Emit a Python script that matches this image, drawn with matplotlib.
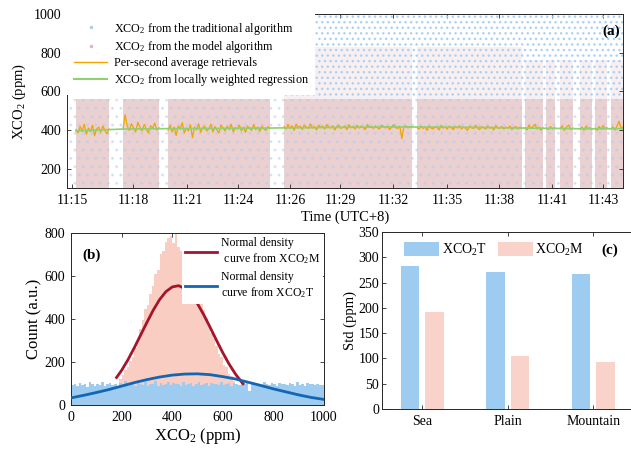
import matplotlib.pyplot as plt
import numpy as np
from matplotlib.lines import Line2D

plt.rcParams["font.family"] = ["Liberation Serif", "DejaVu Serif"]
plt.rcParams["mathtext.fontset"] = "custom"
plt.rcParams["mathtext.rm"] = "Liberation Serif"
plt.rcParams["mathtext.it"] = "Liberation Serif:italic"
plt.rcParams["mathtext.bf"] = "Liberation Serif:bold"
plt.rcParams["hatch.linewidth"] = 1.0
plt.rcParams["axes.linewidth"] = 0.7
plt.rcParams["axes.edgecolor"] = "#262626"

# ---------------- data ----------------
# (a) time axis uses record index; ticks labelled with clock time
time_ticks = [5, 66, 120, 171, 223, 273, 326, 380, 432, 485, 536]
time_labels = ["11:15", "11:18", "11:21", "11:24", "11:26", "11:29",
               "11:32", "11:35", "11:38", "11:41", "11:43"]

seg_start = [9, 56, 101, 217, 350, 458, 479, 493, 513, 528, 544]
seg_end = [42, 92, 203, 345, 455, 476, 488, 506, 525, 540, 556]
model_low = 100
model_high = 560
haze_top = [0, 0, 0, 830, 830, 760, 760, 760, 760, 760, 760]

avg_seg = [
    [402, 385, 418, 395, 430, 378, 410, 392, 425, 370, 405, 415, 388, 420, 398, 380, 405],
    [405, 478, 420, 398, 432, 410, 390, 440, 415, 395, 428, 405, 385, 422, 410, 435, 400, 412],
    [398, 425, 390, 415, 372, 420, 405, 438, 385, 410, 395, 428, 360, 415, 400, 432, 388,
     412, 420, 395, 405, 430, 390, 418, 400, 385, 425, 410, 395, 420, 402, 430, 390, 412,
     405, 425, 395, 415, 388, 420, 408, 398, 428, 402, 415, 392, 420, 405, 398, 418, 408],
    [418, 405, 428, 410, 422, 398, 430, 412, 420, 402, 425, 415, 408, 432, 410, 418, 400,
     425, 412, 420, 405, 428, 415, 410, 422, 400, 418, 425, 408, 415, 420, 402, 428, 412,
     418, 405, 425, 410, 420, 412, 402, 428, 415, 418, 408, 422, 412, 405, 425, 418, 410,
     420, 402, 415, 428, 412, 408, 420, 355, 415, 422, 410, 418, 412],
    [412, 405, 420, 408, 415, 398, 422, 410, 405, 418, 412, 400, 425, 410, 415, 405, 420,
     412, 402, 418, 410, 422, 405, 415, 410, 398, 420, 412, 408, 425, 410, 402, 418, 412,
     405, 420, 410, 415, 400, 422, 412, 408, 418, 405, 415, 410, 420, 402, 412, 418, 405,
     415, 410],
    [412, 400, 425, 408, 418, 430, 405, 415, 398, 412],
    [410, 402, 418, 405, 412],
    [408, 420, 398, 415, 425, 402, 410],
    [405, 415, 398, 420, 408, 412, 402],
    [410, 398, 418, 405, 422, 408, 412],
    [405, 415, 400, 420, 445, 410, 415],
]

lowess_x = [9, 56, 100, 150, 200, 260, 330, 400, 460, 520, 556]
lowess_y = [395, 405, 407, 408, 410, 413, 416, 414, 410, 406, 407]

# (b) histograms, 10 ppm bins from 0 to 1000
bin_edges = list(range(0, 1010, 10))
hist_T = [95, 100, 88, 102, 92, 98, 85, 105, 97, 90, 100, 93, 108, 88, 96, 102, 91, 99, 86,
          104, 95, 110, 92, 98, 101, 89, 115, 96, 93, 105, 88, 100, 97, 112, 90, 102, 95, 99,
          108, 91, 103, 96, 100, 88, 106, 94, 99, 102, 90, 97, 105, 92, 98, 101, 87, 103, 96,
          100, 93, 107, 95, 99, 102, 89, 104, 97, 92, 100, 96, 108, 65, 98, 102, 94, 100, 90,
          106, 97, 93, 101, 99, 88, 104, 96, 100, 92, 103, 97, 90, 105, 95, 99, 87, 102, 96,
          100, 93, 98, 91, 95]
hist_M = [0] * 19 + [120, 140, 165, 175, 205, 225, 265, 290, 355, 395, 445, 465, 515, 555,
                     610, 630, 700, 715, 760, 775, 785, 755, 795, 735, 715, 675, 655, 615, 595,
                     555, 535, 500, 490, 440, 405, 365, 335, 305, 275, 235, 225, 185, 175, 145,
                     135, 110, 100, 85, 60] + [0] * 32

curve_M_x = [180, 200, 225, 250, 275, 300, 325, 350, 375, 400, 425, 450, 475, 500, 525, 550,
             575, 600, 625, 650, 675, 680]
curve_M_y = [128, 161, 210, 266, 325, 384, 441, 490, 527, 549, 555, 542, 514, 471, 419, 361,
             301, 243, 190, 144, 106, 99]
curve_T_x = list(range(0, 1050, 50))
curve_T_y = [33, 45, 58, 72, 88, 104, 118, 130, 139, 144, 145, 141, 132, 121, 106, 91, 75,
             61, 47, 35, 26]

# (c) standard deviation by terrain
terrain = ["Sea", "Plain", "Mountain"]
std_T = [282, 271, 266]
std_M = [192, 105, 92]

# ---------------- style ----------------
c_pink_a = "#ead0d0"
c_blue_a = "#a9cdf2"
c_orange = "#f0a500"
c_green = "#8fd070"
c_hist_M = "#f9cdc2"
c_hist_T = "#9ecbf0"
c_red = "#a5142a"
c_blue = "#1266b4"
c_bar_T = "#9ecbf0"
c_bar_M = "#f9d2ca"


def style_axes(ax):
    ax.tick_params(direction="in", length=3, width=0.6, color="#262626",
                   top=True, right=True, labelsize=10, pad=4)


fig = plt.figure(figsize=(6.31, 4.54), dpi=100)

# ---------------- (a) ----------------
ax = fig.add_axes([0.1062, 0.5859, 0.8811, 0.3833])
for s, e, h in zip(seg_start, seg_end, haze_top):
    ax.fill_between([s, e], model_low, model_high, color=c_pink_a, lw=0, zorder=1)
    if h > 0:
        ax.fill_between([s, e], model_high, h, color=c_pink_a, alpha=0.3, lw=0, zorder=1)
ax.fill_between([217, 556], 560, 1000, facecolor="none", edgecolor=c_blue_a,
                hatch="...", lw=0, alpha=0.9, zorder=2)
ax.fill_between([0, 556], 100, 560, facecolor="none", edgecolor=c_blue_a,
                hatch="..", lw=0, alpha=0.4, zorder=2)
for s, e, vals in zip(seg_start, seg_end, avg_seg):
    ax.plot(np.linspace(s, e, len(vals)), vals, color=c_orange, lw=0.9, zorder=3)
ax.plot(lowess_x, lowess_y, color=c_green, lw=1.2, zorder=4)
ax.set_xlim(0, 556)
ax.set_ylim(100, 1000)
ax.set_xticks(time_ticks)
ax.set_xticklabels(time_labels)
ax.set_yticks([200, 400, 600, 800, 1000])
ax.set_xlabel("Time (UTC+8)", fontsize=10.5, labelpad=3)
ax.set_ylabel("XCO$_2$ (ppm)", fontsize=10.5, labelpad=4)
style_axes(ax)
handles_a = [
    Line2D([], [], ls="none", marker="o", ms=1.5, color=c_blue_a),
    Line2D([], [], ls="none", marker="o", ms=1.5, color="#e6b3b3"),
    Line2D([], [], color=c_orange, lw=1.0),
    Line2D([], [], color=c_green, lw=1.5),
]
labels_a = ["XCO$_2$ from the traditional algorithm", "XCO$_2$ from the model algorithm",
            "Per-second average retrievals", "XCO$_2$ from locally weighted regression"]
leg = ax.legend(handles_a, labels_a, loc="upper left", fontsize=8.7, frameon=True,
                fancybox=False, edgecolor="none", framealpha=1, borderaxespad=0,
                handlelength=2.8, handletextpad=0.5, labelspacing=0.2,
                borderpad=0.55)
leg.set_zorder(5)
ax.text(0.995, 0.9, "(a)", transform=ax.transAxes, ha="right", va="center",
        fontsize=11, fontweight="bold", zorder=6)

# ---------------- (b) ----------------
bx = fig.add_axes([0.1125, 0.1079, 0.4010, 0.3789])
bx.stairs(hist_M, bin_edges, fill=True, color=c_hist_M, zorder=1)
bx.stairs(hist_T, bin_edges, fill=True, color=c_hist_T, zorder=2)
bx.plot(curve_M_x, curve_M_y, color=c_red, lw=2.0, zorder=3,
        label="Normal density\n curve from XCO$_2$M")
bx.plot(curve_T_x, curve_T_y, color=c_blue, lw=2.0, zorder=3,
        label="Normal density\ncurve from XCO$_2$T")
bx.set_xlim(0, 1000)
bx.set_ylim(0, 800)
bx.set_xticks([0, 200, 400, 600, 800, 1000])
bx.set_yticks([0, 200, 400, 600, 800])
bx.set_xlabel("XCO$_2$ (ppm)", fontsize=12, labelpad=2)
bx.set_ylabel("Count (a.u.)", fontsize=12, labelpad=2)
style_axes(bx)
leg_b = bx.legend(loc="upper right", fontsize=8.5, frameon=True, fancybox=False,
                  edgecolor="none", framealpha=1, borderaxespad=0.05,
                  handlelength=2.7, handletextpad=0.3, labelspacing=0.45,
                  borderpad=0.3)
leg_b.set_zorder(5)
bx.text(0.045, 0.87, "(b)", transform=bx.transAxes, ha="left", va="center",
        fontsize=11, fontweight="bold")

# ---------------- (c) ----------------
cx = fig.add_axes([0.6054, 0.0991, 0.4025, 0.3899])
pos = np.arange(1, len(terrain) + 1)
cx.bar(pos - 0.143, std_T, width=0.22, color=c_bar_T, label="XCO$_2$T")
cx.bar(pos + 0.143, std_M, width=0.22, color=c_bar_M, label="XCO$_2$M")
cx.set_xlim(0.53, 3.5)
cx.set_ylim(0, 350)
cx.set_xticks(pos)
cx.set_xticklabels(terrain)
cx.set_yticks(range(0, 351, 50))
cx.set_ylabel("Std (ppm)", fontsize=10.5, labelpad=1)
style_axes(cx)
cx.tick_params(axis="y", pad=2)
cx.legend(loc="upper left", ncol=2, fontsize=10, frameon=False,
          handlelength=2.5, handleheight=1.1, handletextpad=0.2,
          columnspacing=0.8, bbox_to_anchor=(0.05, 1.0), borderaxespad=0.3)
cx.text(0.93, 0.895, "(c)", transform=cx.transAxes, ha="right", va="center",
        fontsize=11, fontweight="bold")

fig.savefig("out.png", dpi=100)
